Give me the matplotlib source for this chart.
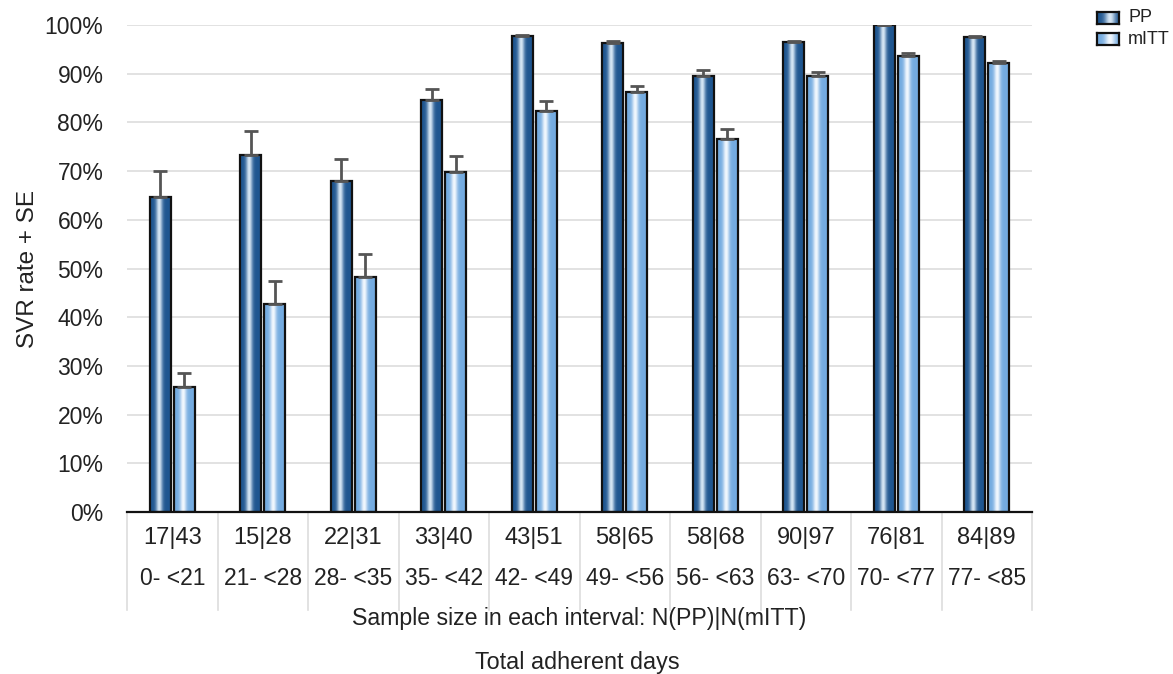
import matplotlib
matplotlib.use("Agg")
import matplotlib.pyplot as plt
import matplotlib.transforms as mtransforms
import numpy as np

n_size = ["17|43", "15|28", "22|31", "33|40", "43|51", "58|65", "58|68", "90|97", "76|81", "84|89"]
intervals = ["0- <21", "21- <28", "28- <35", "35- <42", "42- <49",
             "49- <56", "56- <63", "63- <70", "70- <77", "77- <85"]
pp = [64.7, 73.3, 68.0, 84.6, 97.8, 96.4, 89.6, 96.6, 100.0, 97.5]
pp_se = [5.3, 4.9, 4.5, 2.2, 0.2, 0.3, 1.1, 0.2, 0.0, 0.3]
mitt = [25.7, 42.7, 48.3, 69.9, 82.4, 86.2, 76.5, 89.5, 93.6, 92.1]
mitt_se = [2.8, 4.7, 4.6, 3.3, 2.0, 1.3, 2.2, 0.9, 0.7, 0.6]

plt.rcParams['font.family'] = ['Liberation Sans', 'DejaVu Sans']

fig = plt.figure(figsize=(11.73, 6.74), dpi=100)
ax = fig.add_axes([127 / 1173, 1 - 512 / 674, (1032 - 127) / 1173, (512 - 25) / 674])

x = np.arange(len(pp))
w = 0.235
gap = 0.03


def gradient_row(edge, mid, centre, width):
    c_edge = np.array(matplotlib.colors.to_rgb(edge))
    c_mid = np.array(matplotlib.colors.to_rgb(mid))
    t = np.linspace(0, 1, 64)
    f = np.exp(-((t - centre) / width) ** 2)
    row = c_edge[None, :] * (1 - f[:, None]) + c_mid[None, :] * f[:, None]
    return row[None, :, :]


def gradient_bars(xpos, vals, edge, mid):
    bars = ax.bar(xpos, vals, w, facecolor="none", edgecolor="#111111", linewidth=1.6, zorder=3)
    # highlight a bit left of centre, like a cylinder
    img = gradient_row(edge, mid, 0.42, 0.15)
    for b in bars:
        x0, y0 = b.get_x(), b.get_y()
        im = ax.imshow(img, extent=[x0, x0 + b.get_width(), y0, y0 + b.get_height()],
                       aspect="auto", zorder=2, interpolation="bilinear")
        im.set_clip_path(b)
    return bars


gradient_bars(x - w / 2 - gap / 2, pp, "#1f5690", "#d6e6f4")
gradient_bars(x + w / 2 + gap / 2, mitt, "#74abe0", "#f2f8fe")

ax.errorbar(x - w / 2 - gap / 2, pp, yerr=[np.zeros(len(pp)), pp_se], fmt="none",
            ecolor="#555555", elinewidth=2, capsize=5, capthick=2, zorder=4)
ax.errorbar(x + w / 2 + gap / 2, mitt, yerr=[np.zeros(len(mitt)), mitt_se], fmt="none",
            ecolor="#555555", elinewidth=2, capsize=5, capthick=2, zorder=4)

ax.set_xlim(-0.5, len(pp) - 0.5)
ax.set_ylim(0, 100)
ax.set_yticks(np.arange(0, 101, 10))
ax.set_yticklabels([f"{v}%" for v in range(0, 101, 10)], fontsize=16.5, color="#222222")
ax.tick_params(axis="y", length=0, pad=17)
ax.set_xticks([])
ax.grid(axis="y", color="#dddddd", linewidth=1.2, zorder=0)
ax.set_axisbelow(True)
for s in ["top", "right", "left"]:
    ax.spines[s].set_visible(False)
ax.spines["bottom"].set_linewidth(1.6)
ax.spines["bottom"].set_color("#111111")
ax.set_ylabel("SVR rate + SE", fontsize=17.5, color="#222222", labelpad=4)

# category table below the axis
trans = mtransforms.blended_transform_factory(ax.transData, ax.transAxes)
for i in range(len(pp) + 1):
    ax.plot([i - 0.5, i - 0.5], [0, -0.201], transform=trans, color="#dddddd",
            linewidth=1.2, clip_on=False)
for i in range(len(pp)):
    ax.text(i, -0.053, n_size[i], transform=trans, ha="center", va="center",
            fontsize=17, color="#222222")
    ax.text(i, -0.136, intervals[i], transform=trans, ha="center", va="center",
            fontsize=16.5, color="#222222")
ax.text(0.5, -0.218, "Sample size in each interval: N(PP)|N(mITT)", transform=ax.transAxes,
        ha="center", va="center", fontsize=16.7, color="#222222")
fig.text(577 / 1173, 1 - 662 / 674, "Total adherent days", ha="center", va="center",
         fontsize=16.8, color="#222222")

# legend
for j, (lab, edge, mid) in enumerate([("PP", "#1f5690", "#d6e6f4"), ("mITT", "#74abe0", "#f2f8fe")]):
    yc = 1 - (18 + 21 * j) / 674
    fx0, fw, fh = 1097 / 1173, 22 / 1173, 12 / 674
    lax = fig.add_axes([fx0, yc - fh / 2, fw, fh])
    lax.imshow(gradient_row(edge, mid, 0.6, 0.25), aspect="auto", extent=[0, 1, 0, 1])
    lax.set_xticks([])
    lax.set_yticks([])
    for s in lax.spines.values():
        s.set_linewidth(1.6)
        s.set_color("#111111")
    fig.text(1128 / 1173, yc, lab, ha="left", va="center", fontsize=13, color="#222222")

fig.savefig("out.png", dpi=100)
